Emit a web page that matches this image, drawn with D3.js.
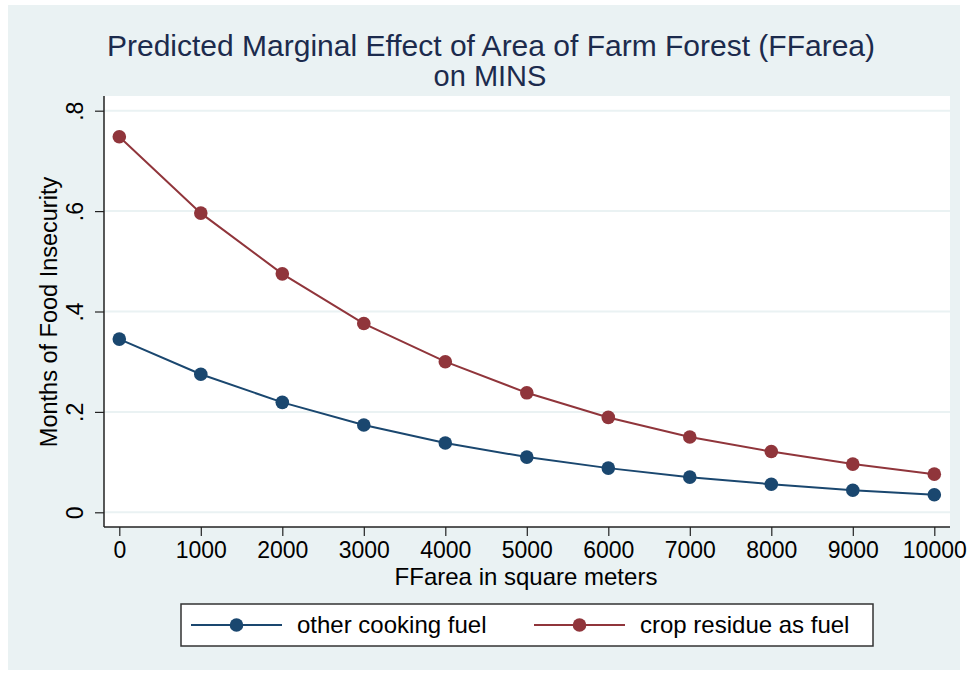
<!DOCTYPE html>
<html>
<head>
<meta charset="utf-8">
<script src="https://cdn.jsdelivr.net/npm/d3@7"></script>
<style>
body { margin: 0; background: #fff; }
text { font-family: "Liberation Sans", Arial, sans-serif; }
</style>
</head>
<body>
<div id="chart"></div>
<script>
// data
var ffarea = [0, 1000, 2000, 3000, 4000, 5000, 6000, 7000, 8000, 9000, 10000];
var otherFuel = [0.345, 0.275, 0.219, 0.174, 0.138, 0.110, 0.088, 0.070, 0.056, 0.044, 0.035];
var cropResidue = [0.748, 0.596, 0.475, 0.376, 0.300, 0.238, 0.189, 0.150, 0.121, 0.096, 0.076];
var yTicks = [0, 0.2, 0.4, 0.6, 0.8];
var yTickLabels = ["0", ".2", ".4", ".6", ".8"];
var seriesNames = ["other cooking fuel", "crop residue as fuel"];
var seriesColors = ["#1a476f", "#90353b"];

var width = 967, height = 675;

var svg = d3.select("#chart").append("svg")
    .attr("width", width)
    .attr("height", height);

//outer graph region
svg.append("rect")
    .attr("x", 8).attr("y", 5)
    .attr("width", 952).attr("height", 665)
    .attr("fill", "#eaf2f3");

var plot = {left: 104, right: 950, top: 96, bottom: 527};

svg.append("rect")
    .attr("x", plot.left).attr("y", plot.top)
    .attr("width", plot.right - plot.left)
    .attr("height", plot.bottom - plot.top)
    .attr("fill", "#fff");

var x = d3.scaleLinear().domain([0, 10000]).range([119.3, 934.3]);
var y = d3.scaleLinear().domain([0, 0.8]).range([512.3, 110.7]);

//gridlines
svg.append("g").selectAll("line")
    .data(yTicks)
    .enter().append("line")
    .attr("x1", plot.left).attr("x2", plot.right)
    .attr("y1", function(d){ return y(d); })
    .attr("y2", function(d){ return y(d); })
    .attr("stroke", "#eaf2f3")
    .attr("stroke-width", 2);

//y axis
var yAxis = d3.axisLeft(y)
    .tickValues(yTicks)
    .tickSize(9)
    .tickPadding(0)
    .tickFormat(function(d, i){ return yTickLabels[i]; });

var gy = svg.append("g")
    .attr("transform", "translate(" + plot.left + ",0)")
    .call(yAxis);
gy.select(".domain").attr("d", "M0," + plot.top + "V" + plot.bottom).attr("stroke", "#222").attr("stroke-width", 1.5);
gy.selectAll(".tick line").attr("stroke", "#222").attr("stroke-width", 1.2);
gy.selectAll(".tick text")
    .attr("x", 0).attr("dy", null)
    .attr("text-anchor", "middle")
    .attr("transform", "translate(-21,0) rotate(-90)")
    .attr("font-size", 23)
    .attr("font-family", "Liberation Sans, Arial, sans-serif")
    .attr("fill", "#000");

//x axis
var xAxis = d3.axisBottom(x)
    .tickValues(ffarea)
    .tickSize(9)
    .tickPadding(6)
    .tickFormat(d3.format("d"));

var gx = svg.append("g")
    .attr("transform", "translate(0," + plot.bottom + ")")
    .call(xAxis);
gx.select(".domain").attr("d", "M" + plot.left + ",0H" + plot.right).attr("stroke", "#222").attr("stroke-width", 1.5);
gx.selectAll(".tick line").attr("stroke", "#222").attr("stroke-width", 1.2);
gx.selectAll(".tick text")
    .attr("font-size", 23)
    .attr("font-family", "Liberation Sans, Arial, sans-serif")
    .attr("fill", "#000");

//axis titles
svg.append("text")
    .attr("x", 526).attr("y", 585)
    .attr("text-anchor", "middle")
    .attr("font-size", 24)
    .text("FFarea in square meters");

svg.append("text")
    .attr("transform", "translate(57,312) rotate(-90)")
    .attr("text-anchor", "middle")
    .attr("font-size", 23.5)
    .text("Months of Food Insecurity");

//title, two lines
svg.append("text")
    .attr("x", 491).attr("y", 55.5)
    .attr("text-anchor", "middle")
    .attr("font-size", 30)
    .attr("fill", "#1c2b4d")
    .text("Predicted Marginal Effect of Area of Farm Forest (FFarea)");
svg.append("text")
    .attr("x", 490).attr("y", 86)
    .attr("text-anchor", "middle")
    .attr("font-size", 29)
    .attr("fill", "#1c2b4d")
    .text("on MINS");

//series
var series = [otherFuel, cropResidue];
var line = d3.line()
    .x(function(d, i){ return x(ffarea[i]); })
    .y(function(d){ return y(d); });

series.forEach(function(s, k) {
    svg.append("path")
        .attr("d", line(s))
        .attr("fill", "none")
        .attr("stroke", seriesColors[k])
        .attr("stroke-width", 2);
    svg.append("g").selectAll("circle")
        .data(s)
        .enter().append("circle")
        .attr("cx", function(d, i){ return x(ffarea[i]); })
        .attr("cy", function(d){ return y(d); })
        .attr("r", 6.8)
        .attr("fill", seriesColors[k]);
});

//legend
var legend = svg.append("g");
legend.append("rect")
    .attr("x", 181).attr("y", 604)
    .attr("width", 692).attr("height", 42)
    .attr("fill", "#fff")
    .attr("stroke", "#333")
    .attr("stroke-width", 1.5);

var keyX = [191, 534];
seriesNames.forEach(function(name, k) {
    legend.append("line")
        .attr("x1", keyX[k]).attr("x2", keyX[k] + 91)
        .attr("y1", 625).attr("y2", 625)
        .attr("stroke", seriesColors[k])
        .attr("stroke-width", 2);
    legend.append("circle")
        .attr("cx", keyX[k] + 45.5).attr("cy", 625)
        .attr("r", 6.8)
        .attr("fill", seriesColors[k]);
    legend.append("text")
        .attr("x", keyX[k] + 106).attr("y", 633)
        .attr("font-size", 24)
        .attr("fill", "#000")
        .text(name);
});
</script>
</body>
</html>
